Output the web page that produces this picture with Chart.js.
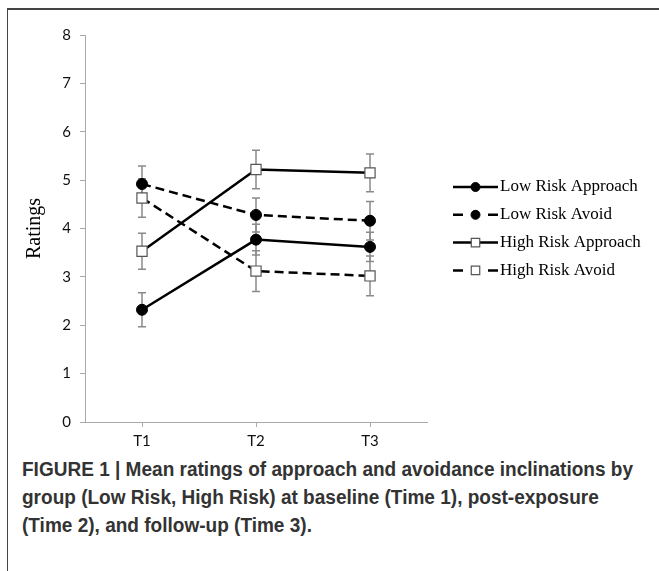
<!DOCTYPE html>
<html><head><meta charset="utf-8">
<script src="https://cdn.jsdelivr.net/npm/chart.js@4.4.0/dist/chart.umd.min.js"></script>
<style>
html,body{margin:0;padding:0;background:#fff;width:659px;height:571px;overflow:hidden;}
#frame{position:absolute;left:7px;top:8px;width:652px;height:563px;border-left:1px solid #444;border-top:2px solid #444;box-sizing:border-box;}
#wrap{position:absolute;left:8px;top:10px;width:651px;height:440px;}
#caption{position:absolute;left:22px;top:455px;font-family:"Liberation Sans",Arial,sans-serif;font-weight:bold;font-size:20px;line-height:28px;color:#333;transform-origin:0 0;white-space:nowrap;}
</style></head>
<body>
<div id="frame"></div>
<div id="wrap"><canvas id="c" width="651" height="440"></canvas></div>
<div id="caption"><span id="cl1">FIGURE 1 | Mean ratings of approach and avoidance inclinations by</span><br>group (Low Risk, High Risk) at baseline (Time 1), post-exposure<br>(Time 2), and follow-up (Time 3).</div>
<script>
const categories = ['T1', 'T2', 'T3'];
const seriesLabels = ['Low Risk Approach', 'Low Risk Avoid', 'High Risk Approach', 'High Risk Avoid'];
const yTickValues = [0, 1, 2, 3, 4, 5, 6, 7, 8];

const lowRiskApproach = [2.32, 3.77, 3.62];
const lowRiskAvoid = [4.92, 4.28, 4.16];
const highRiskApproach = [3.53, 5.22, 5.15];
const highRiskAvoid = [4.63, 3.12, 3.02];

const lowRiskApproachErr = [0.35, 0.32, 0.30];
const lowRiskAvoidErr = [0.37, 0.35, 0.40];
const highRiskApproachErr = [0.37, 0.40, 0.39];
const highRiskAvoidErr = [0.40, 0.42, 0.41];

// fit caption's first line to the reference width (condensed look)
(function () {
  const cap = document.getElementById('caption');
  const w = document.getElementById('cl1').getBoundingClientRect().width;
  const s = 611 / w;
  cap.style.transform = 'scaleX(' + s + ')';
})();

function makeSet(label, data, errors, dashed, square) {
  return {
    label: label,
    data: data,
    errors: errors,
    borderColor: '#000',
    borderWidth: 2.5,
    borderDash: dashed ? [9, 5] : [],
    tension: 0,
    fill: false,
    pointStyle: square ? 'rect' : 'circle',
    pointRadius: square ? 7.2 : 5.5,
    pointHoverRadius: square ? 7.2 : 5.5,
    pointBackgroundColor: square ? '#fff' : '#000',
    pointBorderColor: square ? '#555' : '#000',
    pointBorderWidth: square ? 1.2 : 1
  };
}

const errorBarPlugin = {
  id: 'errorBars',
  beforeDatasetsDraw(chart) {
    const ctx = chart.ctx;
    const xs = chart.scales.x, ys = chart.scales.y;
    ctx.save();
    ctx.strokeStyle = '#8a8a8a';
    ctx.lineWidth = 1.5;
    chart.data.datasets.forEach(ds => {
      ds.data.forEach((v, i) => {
        const e = ds.errors[i];
        const x = xs.getPixelForValue(i);
        const yt = ys.getPixelForValue(v + e);
        const yb = ys.getPixelForValue(v - e);
        ctx.beginPath();
        ctx.moveTo(x, yt); ctx.lineTo(x, yb);
        ctx.moveTo(x - 4, yt); ctx.lineTo(x + 4, yt);
        ctx.moveTo(x - 4, yb); ctx.lineTo(x + 4, yb);
        ctx.stroke();
      });
    });
    ctx.restore();
  }
};

const legendPlugin = {
  id: 'sideLegend',
  afterDraw(chart) {
    const ctx = chart.ctx;
    const area = chart.chartArea;
    const x0 = area.right + 26;
    const x1 = x0 + 45;
    const xm = (x0 + x1) / 2;
    const yStart = area.top + 152;
    const step = 27.8;
    ctx.save();
    chart.data.datasets.forEach((ds, i) => {
      const y = yStart + i * step;
      ctx.strokeStyle = '#000';
      ctx.lineWidth = 2.5;
      ctx.setLineDash([]);
      ctx.beginPath();
      if (ds.borderDash.length) {
        ctx.moveTo(x0, y); ctx.lineTo(x0 + 10, y);
        ctx.moveTo(x1 - 10, y); ctx.lineTo(x1, y);
      } else {
        ctx.moveTo(x0, y); ctx.lineTo(x1, y);
      }
      ctx.stroke();
      ctx.fillStyle = ds.pointBackgroundColor;
      ctx.strokeStyle = ds.pointBorderColor;
      ctx.lineWidth = ds.pointBorderWidth;
      Chart.helpers.drawPoint(ctx, {pointStyle: ds.pointStyle, radius: ds.pointStyle === 'rect' ? 6 : 4.5, borderWidth: ds.pointBorderWidth}, xm, y);
      ctx.fillStyle = '#000';
      ctx.font = '17px "Liberation Serif", "Times New Roman", serif';
      ctx.textAlign = 'left';
      ctx.textBaseline = 'middle';
      ctx.fillText(ds.label, x1 + 2, y);
    });
    ctx.restore();
  }
};

new Chart(document.getElementById('c'), {
  type: 'line',
  data: {
    labels: categories,
    datasets: [
      makeSet(seriesLabels[0], lowRiskApproach, lowRiskApproachErr, false, false),
      makeSet(seriesLabels[1], lowRiskAvoid, lowRiskAvoidErr, true, false),
      makeSet(seriesLabels[2], highRiskApproach, highRiskApproachErr, false, true),
      makeSet(seriesLabels[3], highRiskAvoid, highRiskAvoidErr, true, true)
    ]
  },
  options: {
    responsive: false,
    devicePixelRatio: 1,
    animation: false,
    layout: {padding: {top: 25, right: 232, left: 0, bottom: 0}},
    plugins: {legend: {display: false}, tooltip: {enabled: false}},
    scales: {
      x: {
        type: 'category',
        offset: true,
        grid: {display: true, drawOnChartArea: false, drawTicks: true, tickLength: 5, color: '#aaa', offset: false},
        border: {color: '#aaa', width: 1},
        ticks: {font: {family: 'Lato, "Open Sans", sans-serif', size: 15}, color: '#111', padding: 5, maxRotation: 0},
        afterFit(s) { s.height = 28; }
      },
      y: {
        min: 0, max: 8,
        afterBuildTicks(s) { s.ticks = yTickValues.map(v => ({value: v})); },
        grid: {display: true, drawOnChartArea: false, drawTicks: true, tickLength: 5, color: '#aaa'},
        border: {color: '#aaa', width: 1},
        ticks: {font: {family: 'Lato, "Open Sans", sans-serif', size: 15}, color: '#111', padding: 9},
        title: {display: true, text: 'Ratings', color: '#000', font: {family: '"Liberation Serif", "Times New Roman", serif', size: 20}, padding: {top: 15, bottom: 0}},
        afterFit(s) { s.width = 77; }
      }
    }
  },
  plugins: [errorBarPlugin, legendPlugin]
});
</script>
</body></html>
